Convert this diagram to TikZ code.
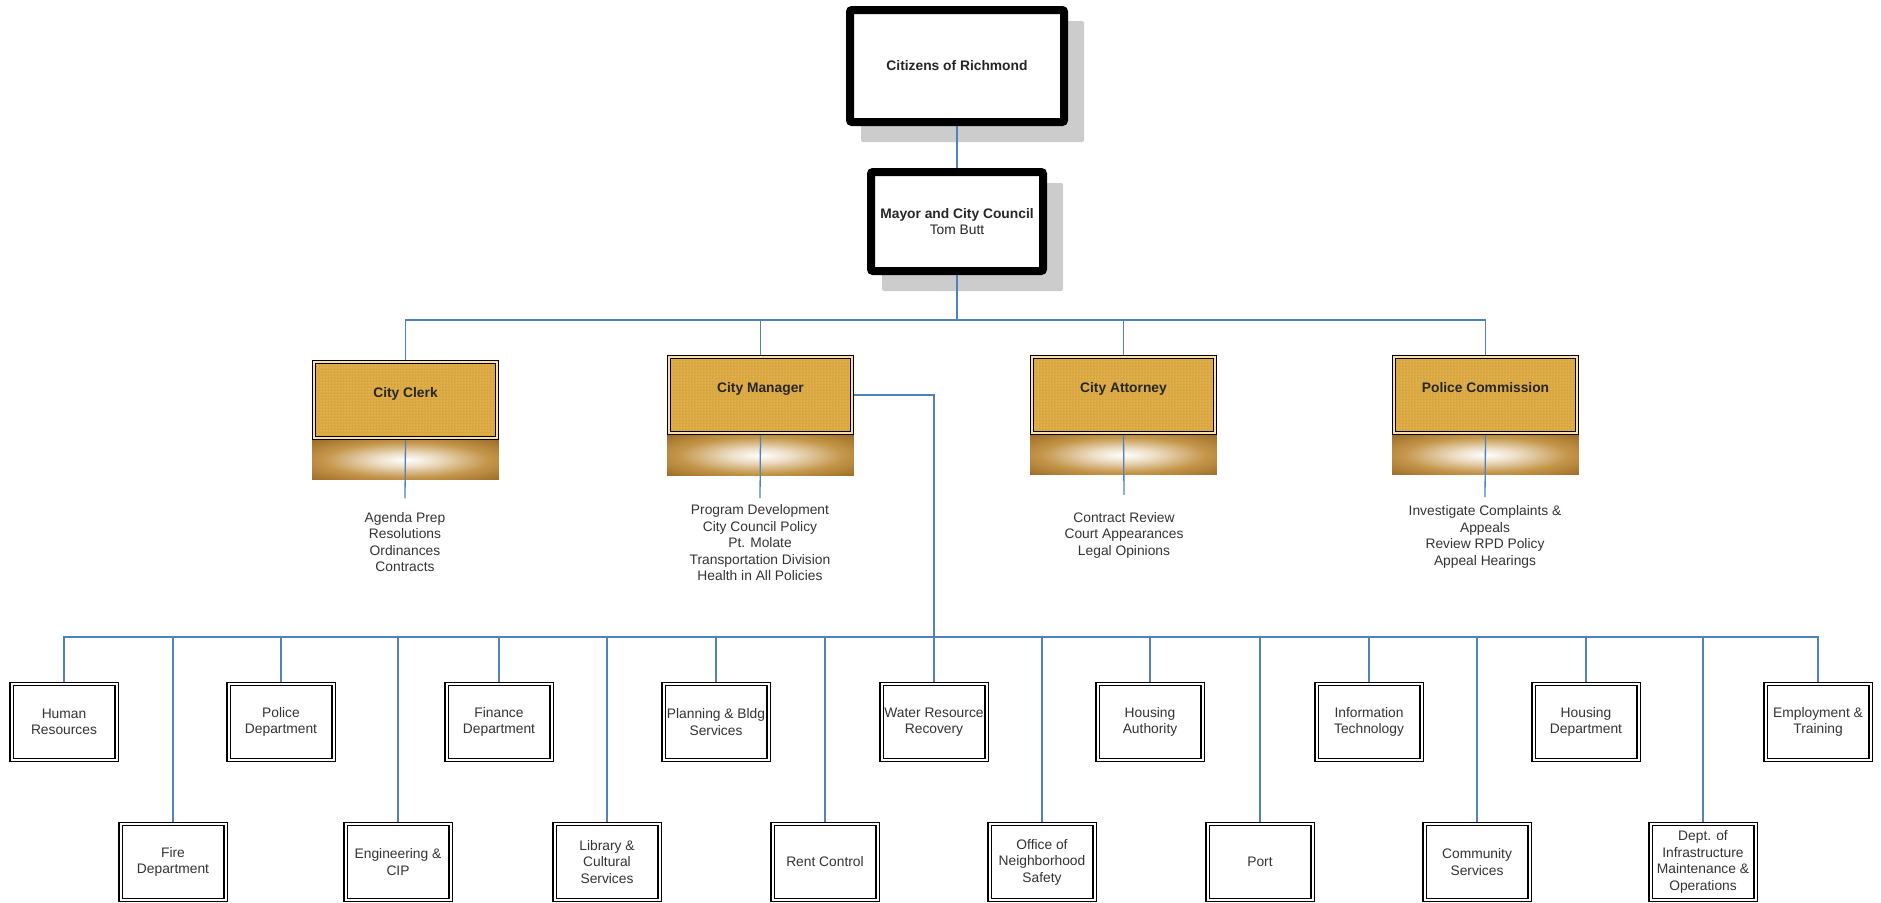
\documentclass[tikz,border=0pt]{standalone}
\usepackage{fontspec}
\setmainfont{Liberation Sans}
\usetikzlibrary{patterns,backgrounds}

\definecolor{linkblue}{RGB}{79,129,189}
\definecolor{shadowgray}{RGB}{204,204,204}
\definecolor{goldfill}{RGB}{218,166,62}
\definecolor{golddot}{RGB}{245,225,175}
\definecolor{bandbrown}{RGB}{150,100,34}
\definecolor{bandtan}{RGB}{196,150,74}
\definecolor{textgray}{RGB}{51,51,51}

\pgfdeclareradialshading{bandglow}{\pgfpoint{0bp}{0bp}}{%
  color(0bp)=(white); color(8bp)=(white!70!bandtan); color(22bp)=(bandtan);
  color(38bp)=(bandbrown); color(100bp)=(bandbrown)}

\tikzset{
  headbox/.style={draw=black, line width=8pt, rounded corners=2pt, fill=white,
    align=center, font=\bfseries, text=black!85},
  officebox/.style={draw=black, line width=0.9pt, double=golddot, double distance=1.8pt,
    outer sep=1.8pt, preaction={fill=goldfill}, pattern=dots, pattern color=golddot,
    minimum width=183pt, minimum height=76pt, font=\bfseries, text=black!85,
    text height=10pt, text depth=16pt},
  deptbox/.style={draw=black, line width=1.1pt, double=white, double distance=2pt,
    outer sep=2.1pt, fill=white, minimum width=105pt, minimum height=76pt,
    inner sep=0pt, align=center, text=textgray},
  duties/.style={align=center, inner sep=0pt, text=textgray},
  link/.style={draw=linkblue, line width=1.3pt}
}

\begin{document}
\fontsize{13.8}{16.5}\selectfont
\begin{tikzpicture}[x=1pt,y=-1pt]
  \useasboundingbox (0,0) rectangle (1881,902);

  % top of the chart
  \node[headbox, minimum width=214pt, minimum height=112pt] (citizens) at (957,66) {Citizens of Richmond};
  \node[headbox, minimum width=172pt, minimum height=99pt] (council) at (957,221.5) {Mayor and City Council\\\mdseries Tom Butt};

  % offices
  \node[officebox] (clerk) at (405.5,400) {City Clerk};
  \node[officebox] (manager) at (760.5,395) {City Manager};
  \node[officebox] (attorney) at (1123.5,395) {City Attorney};
  \node[officebox] (commission) at (1485.5,395) {Police Commission};

  \node[duties] (clerktasks) at (405,542) {Agenda Prep\\Resolutions\\Ordinances\\Contracts};
  \node[duties] (managertasks) at (760,543) {Program Development\\City Council Policy\\Pt. Molate\\Transportation Division\\Health in All Policies};
  \node[duties] (attorneytasks) at (1124,535) {Contract Review\\Court Appearances\\Legal Opinions};
  \node[duties] (commissiontasks) at (1485,537) {Investigate Complaints \&\\Appeals\\Review RPD Policy\\Appeal Hearings};

  % departments, upper row
  \node[deptbox] (hr) at (64,722) {Human\\Resources};
  \node[deptbox] (police) at (281,722) {Police\\Department};
  \node[deptbox] (finance) at (499,722) {Finance\\Department};
  \node[deptbox] (planning) at (716,722) {Planning \& Bldg\\Services};
  \node[deptbox] (water) at (934,722) {Water Resource\\Recovery};
  \node[deptbox] (housingauth) at (1150,722) {Housing\\Authority};
  \node[deptbox] (infotech) at (1369,722) {Information\\Technology};
  \node[deptbox] (housingdept) at (1586,722) {Housing\\Department};
  \node[deptbox] (employment) at (1818,722) {Employment \&\\Training};

  % departments, lower row
  \node[deptbox] (fire) at (173,862) {Fire\\Department};
  \node[deptbox] (engineering) at (398,862) {Engineering \&\\CIP};
  \node[deptbox] (library) at (607,862) {Library \&\\Cultural\\Services};
  \node[deptbox] (rent) at (825,862) {Rent Control};
  \node[deptbox] (ons) at (1042,862) {Office of\\Neighborhood\\Safety};
  \node[deptbox] (port) at (1260,862) {Port};
  \node[deptbox] (community) at (1477,862) {Community\\Services};
  \node[deptbox] (dimo) at (1703,862) {Dept. of\\Infrastructure\\Maintenance \&\\Operations};

  \coordinate (topbar) at (957,320);
  \coordinate (lowbar) at (934,637);

  \begin{scope}[on background layer]
    % shadows and glow bands
    \fill[shadowgray, rounded corners=2pt] ([shift={(15,15)}]citizens.north west) rectangle ([shift={(16,16)}]citizens.south east);
    \fill[shadowgray, rounded corners=2pt] ([shift={(15,15)}]council.north west) rectangle ([shift={(16,16)}]council.south east);

    \shade[shading=bandglow] (clerk.south west) rectangle ([yshift=-40pt]clerk.south east);
    \shade[shading=bandglow] (manager.south west) rectangle ([yshift=-41pt]manager.south east);
    \shade[shading=bandglow] (attorney.south west) rectangle ([yshift=-40pt]attorney.south east);
    \shade[shading=bandglow] (commission.south west) rectangle ([yshift=-40pt]commission.south east);

    % connectors
    \draw[link] (citizens) -- (council);
    \draw[link] (council.south) -- (topbar);
    \draw[link] (topbar) -| (clerk.north);
    \draw[link] (topbar) -| (manager.north);
    \draw[link] (topbar) -| (attorney.north);
    \draw[link] (topbar) -| (commission.north);

    \draw[link] (clerk.south) -- ([yshift=13.5pt]clerktasks.north);
    \draw[link] (manager.south) -- ([yshift=6.5pt]managertasks.north);
    \draw[link] (attorney.south) -- ([yshift=17pt]attorneytasks.north);
    \draw[link] (commission.south) -- ([yshift=8.5pt]commissiontasks.north);

    \draw[link] (manager.east) -| (water.north);
    \draw[link] (lowbar) -| (hr.north);
    \draw[link] (lowbar) -| (fire.north);
    \draw[link] (lowbar) -| (police.north);
    \draw[link] (lowbar) -| (engineering.north);
    \draw[link] (lowbar) -| (finance.north);
    \draw[link] (lowbar) -| (library.north);
    \draw[link] (lowbar) -| (planning.north);
    \draw[link] (lowbar) -| (rent.north);
    \draw[link] (lowbar) -| (ons.north);
    \draw[link] (lowbar) -| (housingauth.north);
    \draw[link] (lowbar) -| (port.north);
    \draw[link] (lowbar) -| (infotech.north);
    \draw[link] (lowbar) -| (community.north);
    \draw[link] (lowbar) -| (housingdept.north);
    \draw[link] (lowbar) -| (dimo.north);
    \draw[link] (lowbar) -| (employment.north);
  \end{scope}
\end{tikzpicture}
\end{document}
